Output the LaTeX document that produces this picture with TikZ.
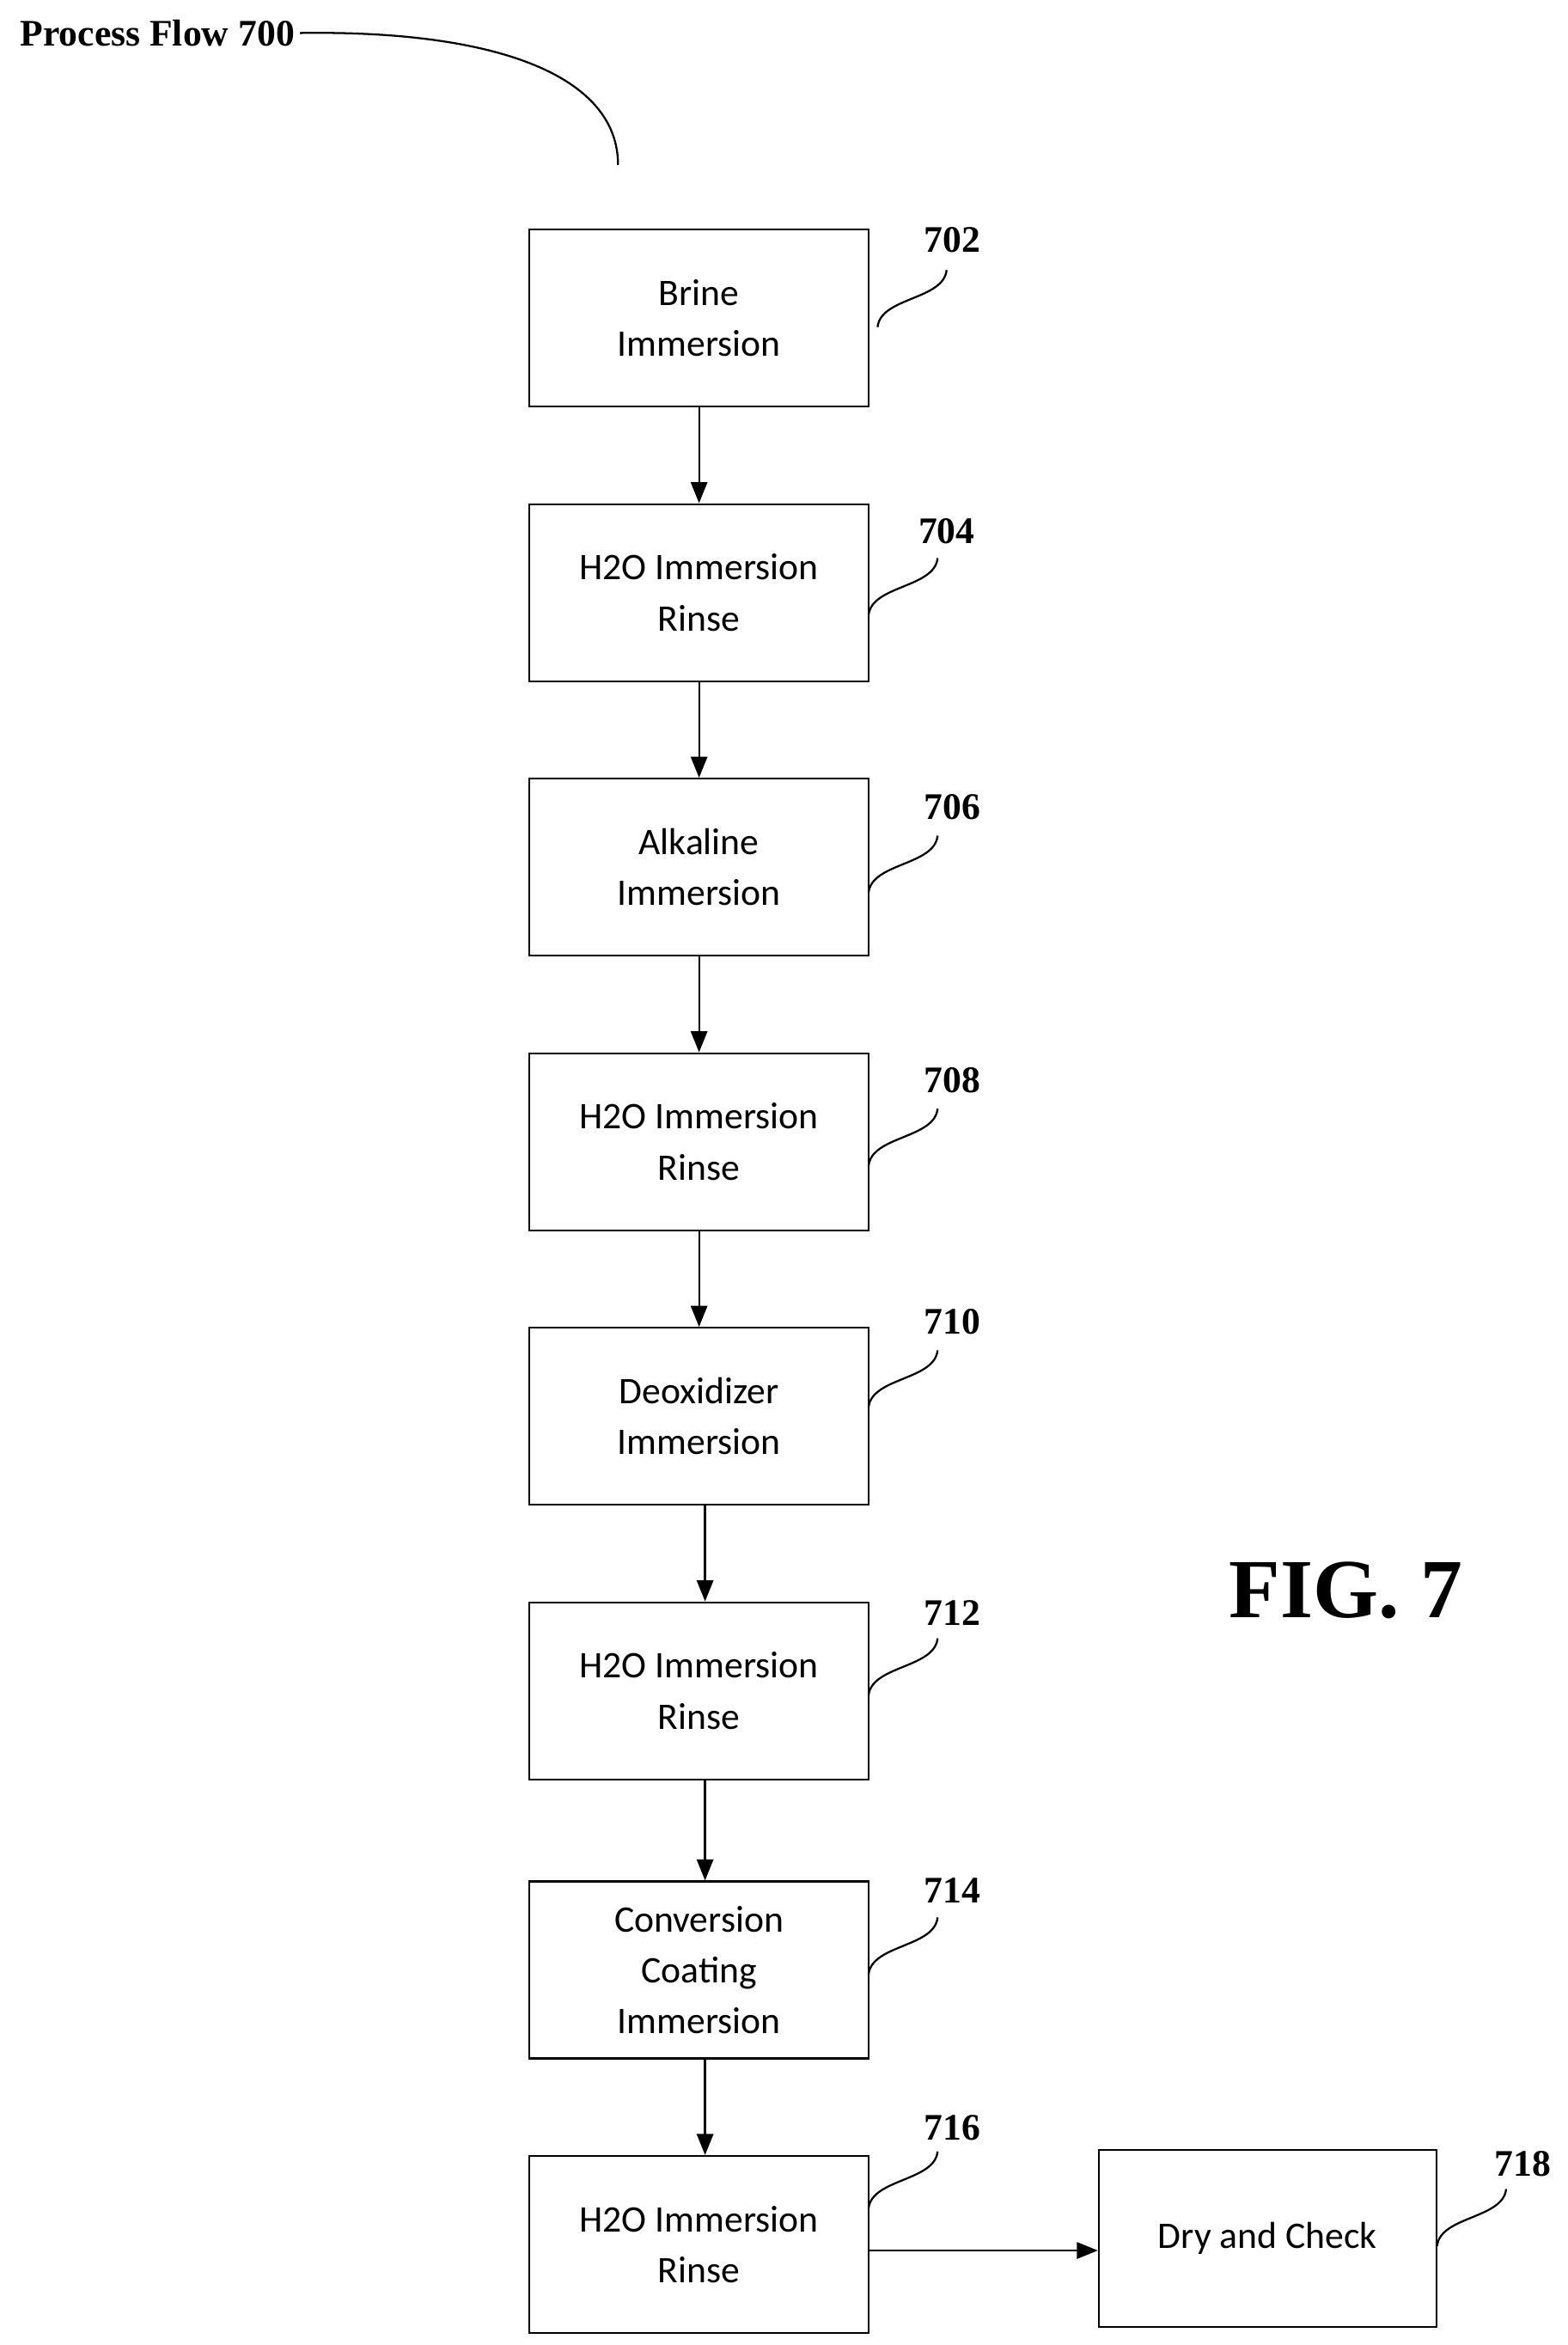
\documentclass[tikz,border=0pt]{standalone}
\usepackage{fontspec}
\setmainfont{Liberation Serif}
\newfontfamily\boxfont{Carlito}
\usetikzlibrary{arrows.meta}
\begin{document}
\begin{tikzpicture}[x=1pt,y=-1pt,
  box/.style={draw,line width=1.3pt,minimum width=226pt,minimum height=118pt,align=center,font=\boxfont\fontsize{25}{34}\selectfont,inner sep=0pt},
  lab/.style={font=\bfseries\fontsize{25}{28}\selectfont},
  arr/.style={line width=1.3pt,-{Triangle[length=14pt,width=11pt]}},
  sq/.style={line width=1.3pt}]
\useasboundingbox (0,0) rectangle (1045,1563);
\node[lab,anchor=west] (title) at (10,22) {Process Flow 700};
\coordinate (tend) at (412,110);
\draw[sq] (title.east) .. controls (330,20) and (412,50) .. (tend);
\node[box] (b702) at (466,212) {Brine\\Immersion};
\node[box] (b704) at (466,395) {H2O Immersion\\Rinse};
\node[box] (b706) at (466,578) {Alkaline\\Immersion};
\node[box] (b708) at (466,761) {H2O Immersion\\Rinse};
\node[box] (b710) at (466,944) {Deoxidizer\\Immersion};
\node[box] (b712) at (466,1127) {H2O Immersion\\Rinse};
\node[box] (b714) at (466,1313) {Conversion\\Coating\\Immersion};
\node[box] (b716) at (466,1496) {H2O Immersion\\Rinse};
\node[box,minimum width=225pt] (b718) at (845,1492) {Dry and Check};
\draw[arr] (b702.south) -- (b704.north);
\draw[arr] (b704.south) -- (b706.north);
\draw[arr] (b706.south) -- (b708.north);
\draw[arr] (b708.south) -- (b710.north);
\draw[arr] ([xshift=4pt]b710.south) -- ([xshift=4pt]b712.north);
\draw[arr] ([xshift=4pt]b712.south) -- ([xshift=4pt]b714.north);
\draw[arr] ([xshift=4pt]b714.south) -- ([xshift=4pt]b716.north);
\draw[arr] (b716.east |- 0,1500) -- (b718.west |- 0,1500);
\foreach \n/\x/\y/\lx/\ly in {702/585/218/635/160,704/579/410/631/354,706/579/595/635/538,708/579/777/635/720,710/579/938/635/881,712/579/1130/635/1075,714/579/1316/635/1260,716/579/1472/635/1418,718/958/1497/1015/1442}{
  \node[lab] (l\n) at (\lx,\ly) {\n};
  \coordinate (e\n) at (\x+46,\y-38);
  \draw[sq] (\x,\y) .. controls (\x+2,\y-20) and (\x+44,\y-18) .. (e\n);
}
\node[font=\bfseries\fontsize{56}{60}\selectfont] (fig) at (897,1060) {FIG. 7};
\end{tikzpicture}
\end{document}
